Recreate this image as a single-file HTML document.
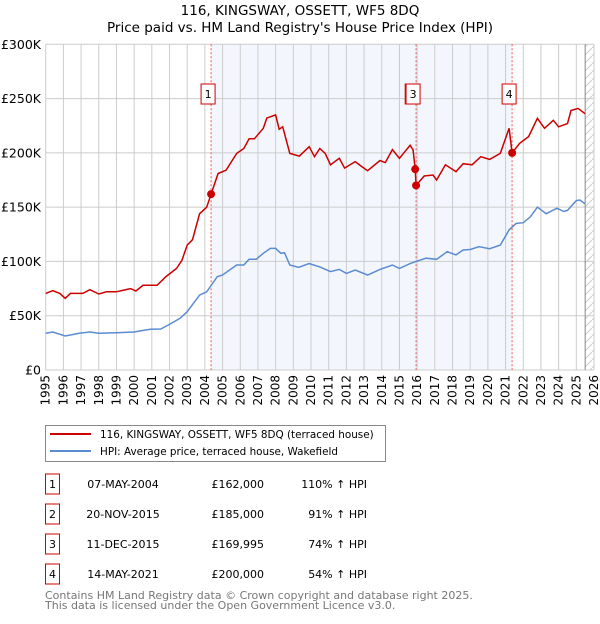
<!DOCTYPE html>
<html><head><meta charset="utf-8"><style>
body{margin:0;background:#fff;font-family:"DejaVu Sans","Liberation Sans",sans-serif;}
svg text{font-family:"DejaVu Sans","Liberation Sans",sans-serif;}
</style></head><body>
<svg id="chart" width="600" height="620" xmlns="http://www.w3.org/2000/svg">
<text x="300" y="15" text-anchor="middle" font-size="13.5">116, KINGSWAY, OSSETT, WF5 8DQ</text>
<text x="300" y="32" text-anchor="middle" font-size="13.5">Price paid vs. HM Land Registry's House Price Index (HPI)</text>
<g id="plot"></g>
<g>
<rect x="45.5" y="425.5" width="340" height="36" fill="#fff" stroke="#888"/>
<line x1="50" y1="434" x2="91" y2="434" stroke="#cc0000" stroke-width="2"/>
<text x="100" y="438" font-size="10.4">116, KINGSWAY, OSSETT, WF5 8DQ (terraced house)</text>
<line x1="50" y1="451" x2="91" y2="451" stroke="#5b8bd0" stroke-width="2"/>
<text x="100" y="455" font-size="10.4">HPI: Average price, terraced house, Wakefield</text>
</g>
<g id="table" font-size="11"></g>
<text x="45" y="599" font-size="11" fill="#777">Contains HM Land Registry data © Crown copyright and database right 2025.</text>
<text x="45" y="609" font-size="11" fill="#777">This data is licensed under the Open Government Licence v3.0.</text>
</svg>
<script>
const yTicks=[0,50,100,150,200,250,300];
const yTickLabels=["£0","£50K","£100K","£150K","£200K","£250K","£300K"];
const years=[1995,1996,1997,1998,1999,2000,2001,2002,2003,2004,2005,2006,2007,2008,2009,2010,2011,2012,2013,2014,2015,2016,2017,2018,2019,2020,2021,2022,2023,2024,2025,2026];
const hpiT=[1995,1995.4,1996.1,1996.9,1997.5,1998,1999,2000,2000.9,2001.5,2002,2002.6,2003,2003.7,2004.1,2004.7,2005,2005.8,2006.2,2006.5,2006.9,2007.3,2007.7,2008,2008.3,2008.5,2008.8,2009.3,2009.9,2010.5,2011.1,2011.6,2012,2012.5,2013.2,2013.9,2014.6,2015,2015.6,2016.5,2017.1,2017.7,2018.2,2018.6,2019,2019.5,2020.1,2020.7,2021.2,2021.6,2022,2022.4,2022.8,2023.3,2023.9,2024.3,2024.5,2025,2025.2,2025.5];
const hpiV=[33.8,35,31.3,33.8,35,33.8,34.4,35,37.5,37.8,42,47.6,53.7,69,72,86,87.5,96.7,96.7,102,102,107.5,112,112,107.5,108,96.7,94.6,98,95,90.6,92.7,89,92,87.5,92.7,96.7,93.6,98,103,102,109,106,110.5,111,113.6,111.7,115,129,135,135.7,141,150,144,149,146,147,156,156.6,153];
const redT=[1995,1995.4,1995.8,1996.1,1996.4,1997.1,1997.5,1998,1998.45,1999,1999.8,2000.1,2000.5,2001.3,2001.8,2002.4,2002.7,2003,2003.3,2003.7,2004.1,2004.35,2004.75,2005.2,2005.8,2006.2,2006.5,2006.8,2007.3,2007.5,2008,2008.2,2008.4,2008.8,2009.34,2009.9,2010.2,2010.5,2010.8,2011.1,2011.6,2011.9,2012.5,2012.9,2013.2,2013.9,2014.2,2014.6,2015,2015.6,2015.77,2015.89,2015.94,2016.4,2016.9,2017.1,2017.6,2018.2,2018.6,2019.1,2019.6,2020.1,2020.7,2021.2,2021.37,2021.8,2022.3,2022.8,2023.2,2023.7,2024,2024.5,2024.7,2025.1,2025.5];
const redV=[70.6,73,70.6,66,70.6,70.6,74,70,72,72,75,72.8,78,78,86,93.6,101,115,120,144,150,162,181,184,199.5,204,213,213,222.6,232,235,221.7,224,199.5,197,205.7,196.5,204,199.5,189,195,186,192,187,183.6,193,191,203,195,207,202.6,185,170,178.7,179.6,175,189,182.7,190,189,196.5,194,199.5,222.6,200,208.8,215,231.8,222.6,230,224,227,239,241,236];
const saleT=[2004.35,2015.89,2015.94,2021.37];
const saleV=[162,185,169.995,200];
const saleLabels=["1","2","3","4"];
const saleDates=["07-MAY-2004","20-NOV-2015","11-DEC-2015","14-MAY-2021"];
const salePrices=["£162,000","£185,000","£169,995","£200,000"];
const salePct=["110% ↑ HPI","91% ↑ HPI","74% ↑ HPI","54% ↑ HPI"];

const NS="http://www.w3.org/2000/svg";
const X0=45.7,X1=594,Y0=370,Y1=44.3;
const xs=t=>X0+(t-1995)*(X1-X0)/31;
const ys=v=>Y0-v*(Y0-Y1)/300;
const plot=document.getElementById('plot');
function mk(tag,attrs,parent){const e=document.createElementNS(NS,tag);for(const k in attrs)e.setAttribute(k,attrs[k]);(parent||plot).appendChild(e);return e;}

let r=mk('rect',{x:xs(saleT[0]),y:Y1,width:xs(saleT[3])-xs(saleT[0]),height:Y0-Y1,fill:'#eef3fc',opacity:0.7});


const defs=mk('defs',{});
const pat=mk('pattern',{id:'hatch',width:8,height:8,patternUnits:'userSpaceOnUse'},defs);
mk('path',{d:'M0,8 L8,0',stroke:'#ccc','stroke-width':1},pat);
r=mk('rect',{x:xs(2025.5),y:Y1,width:X1-xs(2025.5),height:Y0-Y1,fill:'url(#hatch)'});


years.forEach(y=>{
  let l=mk('line',{x1:xs(y),x2:xs(y),y1:Y1,y2:Y0,stroke:'#cccccc','stroke-width':1});
  
  
  let t=mk('text',{x:0,y:0,'font-size':12,'text-anchor':'end',transform:`translate(${xs(y)+4},375) rotate(-90)`});
  t.textContent=y;
  
  
});
yTicks.forEach((v,i)=>{
  let l=mk('line',{x1:X0,x2:X1,y1:ys(v),y2:ys(v),stroke:'#cccccc','stroke-width':1});
  
  
  let t=mk('text',{x:41,y:ys(v)+4.5,'font-size':12.5,'text-anchor':'end'});
  t.textContent=yTickLabels[i];
  
  
});
let b=mk('line',{x1:xs(2025.5),x2:xs(2025.5),y1:Y1,y2:Y0,stroke:'#888','stroke-width':1});


[0,2,3].forEach(i=>{
  let l=mk('line',{x1:xs(saleT[i]),x2:xs(saleT[i]),y1:Y1,y2:Y0,stroke:'#ee5555','stroke-width':1,'stroke-dasharray':'2,2'});
  
  
});
const pts=(T,V)=>T.map((t,i)=>xs(t).toFixed(1)+','+ys(V[i]).toFixed(1)).join(' ');
let p=mk('polyline',{points:pts(hpiT,hpiV),fill:'none',stroke:'#5b8bd0','stroke-width':1.5});


p=mk('polyline',{points:pts(redT,redV),fill:'none',stroke:'#cc0000','stroke-width':1.5});


saleT.forEach((t,i)=>{
  let c=mk('circle',{cx:xs(t),cy:ys(saleV[i]),r:4,fill:'#cc0000'});
  
  
});
const boxX=[xs(saleT[0])-3,xs(saleT[1])-3,xs(saleT[2])-3,xs(saleT[3])-3];
[1,0,2,3].forEach(i=>{
  const g=mk('g',{});
  
  
  mk('rect',{x:boxX[i]-7,y:84,width:14,height:20,fill:'#fff',stroke:'#cc0000','stroke-width':1},g);
  const tx=mk('text',{x:boxX[i],y:98,'font-size':11,'text-anchor':'middle'},g);
  tx.textContent=saleLabels[i];
});
const tb=document.getElementById('table');
saleT.forEach((t,i)=>{
  const cy=484+i*30;
  const g=mk('g',{},tb);
  
  
  mk('rect',{x:45.5,y:cy-10,width:14,height:20,fill:'#fff',stroke:'#cc0000'},g);
  let e=mk('text',{x:52.5,y:cy+4,'text-anchor':'middle'},g);e.textContent=saleLabels[i];
  e=mk('text',{x:123,y:cy+4,'text-anchor':'middle'},g);e.textContent=saleDates[i];
  e=mk('text',{x:264,y:cy+4,'text-anchor':'end'},g);e.textContent=salePrices[i];
  e=mk('text',{x:367,y:cy+4,'text-anchor':'end'},g);e.textContent=salePct[i];
});
</script>
</body></html>
